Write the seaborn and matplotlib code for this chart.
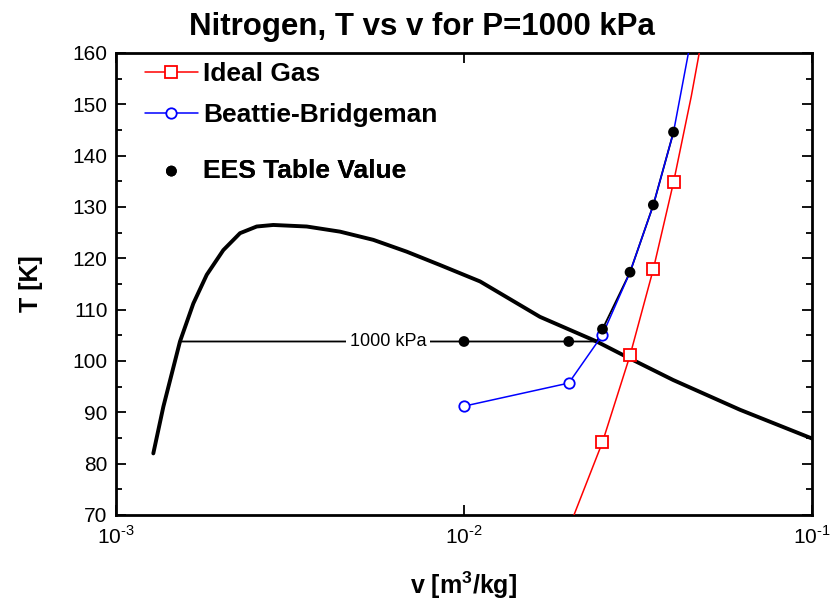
import numpy as np
import pandas as pd
import seaborn as sns
import matplotlib
matplotlib.use("Agg")
import matplotlib.pyplot as plt

# data
# saturation dome of nitrogen (thick black curve)
dome_v = [0.00128, 0.001368, 0.001527, 0.001668, 0.001823, 0.002034, 0.002272,
          0.002537, 0.002831, 0.003532, 0.004402, 0.005488, 0.006843, 0.008531,
          0.01112, 0.01653, 0.02405, 0.02935, 0.0399, 0.0621, 0.1]
dome_T = [82.0, 91.1, 103.8, 111.2, 116.8, 121.6, 124.9,
          126.2, 126.5, 126.2, 125.2, 123.6, 121.3, 118.7,
          115.5, 108.6, 103.8, 100.8, 96.3, 90.5, 84.9]

# ideal gas
ideal_v = [0.02, 0.025, 0.03, 0.035, 0.04, 0.045, 0.05]
ideal_T = [67.4, 84.2, 101.1, 117.9, 134.8, 151.6, 168.5]

# Beattie-Bridgeman
bb_v = [0.01, 0.02, 0.025, 0.03, 0.035, 0.04, 0.045, 0.05]
bb_T = [91.2, 95.7, 105.1, 117.3, 130.4, 144.6, 163.0, 181.0]

# EES table values
ees_v = [0.01, 0.02, 0.025, 0.03, 0.035, 0.04]
ees_T = [103.8, 103.8, 106.2, 117.3, 130.4, 144.6]

# 1000 kPa isobar (thin black)
iso_v = [0.001527, 0.0241, 0.025, 0.03, 0.035, 0.04]
iso_T = [103.8, 103.8, 106.2, 117.3, 130.4, 144.6]

x_ticks = [1e-3, 1e-2, 1e-1]
x_labels = ["$10^{\\text{-}3}$", "$10^{\\text{-}2}$", "$10^{\\text{-}1}$"]

sns.set_style("ticks")
plt.rcParams['font.family'] = ['Liberation Sans', 'DejaVu Sans']
plt.rcParams['mathtext.fontset'] = 'custom'
plt.rcParams['mathtext.rm'] = 'Liberation Sans'
plt.rcParams['mathtext.bf'] = 'Liberation Sans:bold'
for k in ['text.color', 'axes.labelcolor', 'xtick.color', 'ytick.color', 'axes.edgecolor']:
    plt.rcParams[k] = 'black'

fig, ax = plt.subplots(figsize=(8.3, 6.03), dpi=100)
fig.subplots_adjust(left=116/830, right=812/830, top=1 - 53/603, bottom=1 - 515/603)

# dome + isobar
sns.lineplot(x=dome_v, y=dome_T, color='black', lw=2.8, sort=False, ax=ax, zorder=2)
sns.lineplot(x=iso_v, y=iso_T, color='black', lw=1.3, sort=False, ax=ax, zorder=3)
ax.text(0.00605, 103.8, "1000 kPa", ha='center', va='center', fontsize=13,
        bbox=dict(facecolor='white', edgecolor='none', pad=3), zorder=4)

l1 = sns.lineplot(x=ideal_v, y=ideal_T, color='red', lw=1.1, marker='s', markersize=9,
                  mfc='white', mec='red', mew=1.3, markevery=[1, 2, 3, 4],
                  ax=ax, zorder=5).lines[-1]
l2 = sns.lineplot(x=bb_v, y=bb_T, color='blue', lw=1.1, marker='o', markersize=7.5,
                  mfc='white', mec='blue', mew=1.3, markevery=[0, 1, 2],
                  ax=ax, zorder=5).lines[-1]
sns.scatterplot(x=ees_v, y=ees_T, color='black', s=60, edgecolor='none', ax=ax, zorder=6)
l3 = ax.collections[-1]

ax.set_xscale('log')
ax.set_xlim(1e-3, 1e-1)
ax.set_ylim(70, 160)
ax.set_xticks(x_ticks)
ax.set_xticklabels(x_labels)
ax.set_yticks(np.arange(70, 161, 10))
ax.set_yticks(np.arange(75, 160, 10), minor=True)
ax.xaxis.set_minor_locator(matplotlib.ticker.NullLocator())

ax.tick_params(which='both', direction='in', top=True, right=True, labelsize=15, width=1.3)
ax.tick_params(which='major', length=7)
ax.tick_params(which='minor', length=4.5)
ax.tick_params(axis='x', pad=7)
ax.tick_params(axis='y', pad=6)
for s in ax.spines.values():
    s.set_linewidth(2)

ax.set_xlabel("v [m$^\\mathbf{3}$/kg]", fontsize=18, fontweight='bold', labelpad=16)
ax.set_ylabel("T [K]", fontsize=18, fontweight='bold', labelpad=21)
fig.suptitle("Nitrogen, T vs v for P=1000 kPa", x=422/830, y=1 - 27/603,
             va='center', fontsize=22.5, fontweight='bold')

# legend rows placed separately (uneven spacing as in the reference)
rows = [(l1, 'Ideal Gas', 0.9545), (l2, 'Beattie-Bridgeman', 0.8658), (l3, 'EES Table Value', 0.7446)]
for h, lab, yy in rows:
    lg = ax.legend([h], [lab], loc='center left', bbox_to_anchor=(29/696, yy), frameon=False,
                   handlelength=2.0, handletextpad=0.2, borderpad=0, borderaxespad=0,
                   prop={'size': 19, 'weight': 'bold'})
    ax.add_artist(lg)

fig.savefig("out.png", dpi=100)
